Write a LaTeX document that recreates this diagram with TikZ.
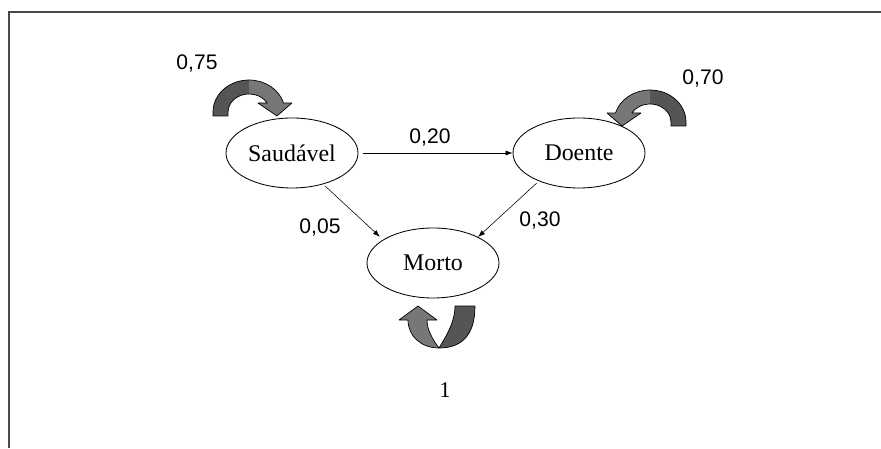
\documentclass[tikz,border=0pt]{standalone}
\usepackage{fontspec}
\setmainfont{Liberation Serif}
\newfontfamily\numfont{Liberation Sans}
\usetikzlibrary{arrows.meta,shapes.geometric}
\definecolor{framegray}{HTML}{4A4A4A}
\definecolor{arrowdark}{HTML}{555555}
\definecolor{arrowlight}{HTML}{777777}

\begin{document}
\begin{tikzpicture}[>={Latex[length=5pt,width=3.6pt]},
  state/.style={ellipse, draw, line width=0.6pt, inner sep=0pt, minimum width=3.3cm, minimum height=1.75cm, font=\fontsize{17}{20}\selectfont},
  prob/.style={font=\numfont\fontsize{15}{18}\selectfont},
  loopline/.style={draw=black, line width=0.5pt, line join=round}]
\useasboundingbox (0,0) rectangle (22.025,11.2);

% Frame (only top and left edges show)
\draw[framegray, line width=1.6pt] (0.225,0) -- (0.225,10.9) -- (22.025,10.9);

% States
\node[state] (sau) at (7.3,7.375) {Saudável};
\node[state] (doe) at (14.475,7.375) {Doente};
\node[state] (mor) at (10.825,4.625) {Morto};

% Transitions
\draw[->, shorten <=3pt] (sau.east) -- (doe.west);
\draw[->, shorten <=2pt, shorten >=3pt] (sau.-45) -- (mor.155);
\draw[->, shorten <=2pt] (doe.-145) -- (mor.30);

% Transition probabilities
\node[prob] (p20) at (10.75,7.775) {0,20};
\node[prob] (p05) at (8.0,5.525) {0,05};
\node[prob] (p30) at (13.5,5.7) {0,30};
\node[prob] (p75) at (4.925,9.625) {0,75};
\node[prob] (p70) at (17.575,9.25) {0,70};
\node[font=\fontsize{16}{19}\selectfont] (p1) at (11.125,1.45) {1};

% Self loops of Saudavel and Doente (block arrows, second one mirrored)
\foreach \ox/\oy/\dir in {5.325/8.3/1, 17.15/8.05/-1}{
  \begin{scope}[shift={(\ox cm,\oy cm)}, xscale=\dir, x=0.025cm, y=0.025cm]
    \fill[arrowlight] (36,36) arc[start angle=90, end angle=16.3, x radius=36, y radius=32]
      -- (79,13) -- (64,0) -- (45,13) -- (54.2,13)
      arc[start angle=30, end angle=90, x radius=21, y radius=18] -- cycle;
    \fill[arrowdark] (0,0) -- (0,4) arc[start angle=180, end angle=90, x radius=36, y radius=32]
      -- (36,22) arc[start angle=90, end angle=180, x radius=21, y radius=18] -- (15,0) -- cycle;
    \draw[loopline] (0,0) -- (0,4) arc[start angle=180, end angle=16.3, x radius=36, y radius=32]
      -- (79,13) -- (64,0) -- (45,13) -- (54.2,13)
      arc[start angle=30, end angle=180, x radius=21, y radius=18] -- (15,0) -- cycle;
  \end{scope}
}

% Self loop of Morto (U-turn block arrow)
\begin{scope}[shift={(9.975cm,2.5cm)}, x=0.025cm, y=0.025cm]
  \filldraw[fill=arrowdark, loopline] (56,42) -- (76,42) .. controls (76,12) and (62,0) .. (40,0)
    .. controls (46,10) and (56,25) .. (56,42) -- cycle;
  \filldraw[fill=arrowlight, loopline] (40,0) .. controls (22,0) and (9,12) .. (9,28)
    -- (0,28) -- (19,42) -- (38,28) -- (28,28) .. controls (28,18) and (34,8) .. (40,0) -- cycle;
\end{scope}
\end{tikzpicture}
\end{document}
